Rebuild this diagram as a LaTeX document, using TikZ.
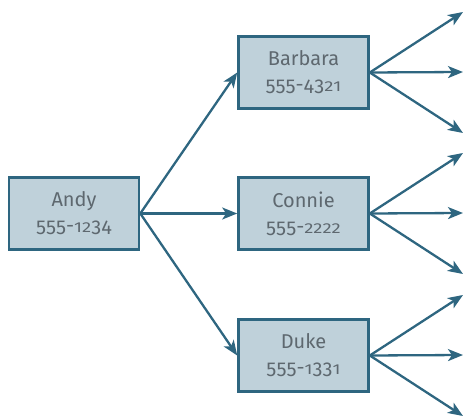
\documentclass[tikz,border=0pt]{standalone}
\usepackage{fontspec}
\usepackage{graphicx}
\setmainfont{Fira Sans}
\usetikzlibrary{arrows.meta}
\definecolor{edge}{HTML}{2E6680}
\definecolor{boxfill}{HTML}{BFD1DA}
\definecolor{txt}{HTML}{5E686F}
\newcommand\dlow[1]{\raisebox{-0.1em}{#1}}
\newcommand\dsml[1]{\scalebox{0.92}[0.72]{#1}}
\tikzset{
  person/.style={draw=edge, line width=2.6pt, fill=boxfill, minimum width=130pt, minimum height=72pt,
    align=center, text=txt, font=\fontsize{20}{26}\selectfont, inner sep=0pt},
  link/.style={draw=edge, line width=2.3pt, -{Stealth[length=15pt,width=12pt,inset=4pt]}}
}
\begin{document}
\begin{tikzpicture}[x=1pt,y=-1pt]
\useasboundingbox (0,0) rectangle (463,419);
\node[person] (andy) at (74,213.5) {Andy\\\dlow5\dlow5\dlow5-\dsml1\dsml2\dlow3\dlow4};
\node[person] (barbara) at (303.5,72.5) {Barbara\\\dlow5\dlow5\dlow5-\dlow4\dlow3\dsml2\dsml1};
\node[person] (connie) at (303.5,213.5) {Connie\\\dlow5\dlow5\dlow5-\dsml2\dsml2\dsml2\dsml2};
\node[person] (duke) at (303.5,355.5) {Duke\\\dlow5\dlow5\dlow5-\dsml1\dlow3\dlow3\dsml1};
\draw[link] (andy.east) -- (barbara.west);
\draw[link] (andy.east) -- (connie.west);
\draw[link] (andy.east) -- (duke.west);
\coordinate (b1) at (463,12);
\coordinate (b2) at (463,72);
\coordinate (b3) at (463,133);
\coordinate (c1) at (463,153);
\coordinate (c2) at (463,213);
\coordinate (c3) at (463,274);
\coordinate (d1) at (463,295);
\coordinate (d2) at (463,355);
\coordinate (d3) at (463,416);
\foreach \t in {b1,b2,b3} \draw[link] (barbara.east) -- (\t);
\foreach \t in {c1,c2,c3} \draw[link] (connie.east) -- (\t);
\foreach \t in {d1,d2,d3} \draw[link] (duke.east) -- (\t);
\end{tikzpicture}
\end{document}
